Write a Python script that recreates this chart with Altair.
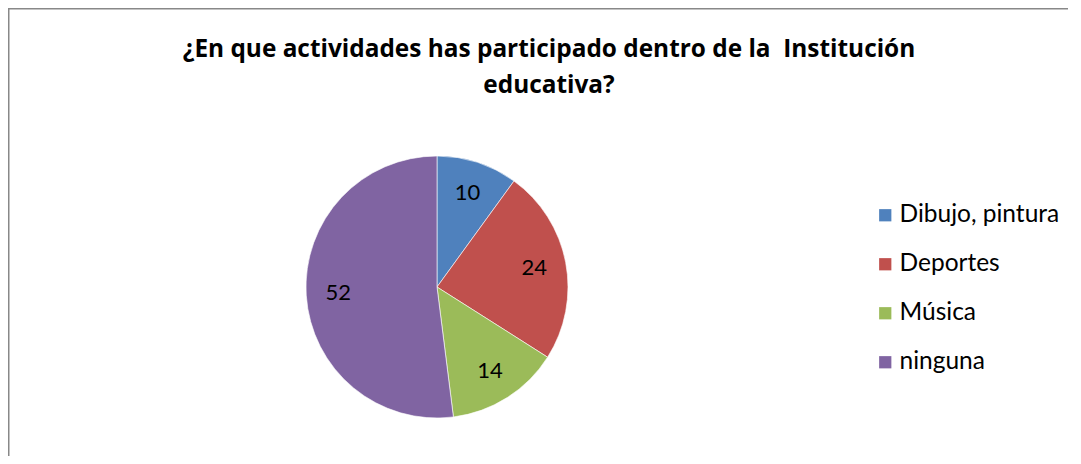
import altair as alt
import pandas as pd

categories = ["Dibujo, pintura", "Deportes", "Música", "ninguna"]
values = [10, 24, 14, 52]
colors = ["#4F81BD", "#C0504D", "#9BBB59", "#8064A2"]
title_lines = "¿En que actividades has participado dentro de la \u00a0Institución\neducativa?"

df = pd.DataFrame({"cat": categories, "val": values, "ord": list(range(len(values)))})

W, H = 1060, 448
CX, CY, R = 429, 279, 131
FONT = "Lato"

base = alt.Chart(df).encode(
    theta=alt.Theta("val:Q", stack=True),
    order=alt.Order("ord:Q"),
)

pie = base.mark_arc(radius=R, stroke="white", strokeWidth=0.6).encode(
    x=alt.value(CX), y=alt.value(CY),
    color=alt.Color(
        "cat:N",
        scale=alt.Scale(domain=categories, range=colors),
        sort=categories,
        legend=alt.Legend(
            title=None, orient="none", legendX=865, legendY=195,
            symbolType="square", symbolSize=150, symbolStrokeWidth=0,
            labelFontSize=24.5, labelFont=FONT, labelColor="black",
            rowPadding=24, labelOffset=2, labelLimit=300,
        ),
    ),
)

labels = base.mark_text(radius=99, fontSize=22, font=FONT, color="black").encode(
    x=alt.value(CX), y=alt.value(CY),
    text=alt.Text("val:Q"),
)

title = alt.Chart(pd.DataFrame({"t": [title_lines]})).mark_text(
    font="Open Sans", fontSize=24.4, fontWeight="bold", color="black",
    lineBreak="\n", lineHeight=36, align="center", baseline="alphabetic",
).encode(x=alt.value(541), y=alt.value(49), text="t:N")

frame = pd.DataFrame({"a": [0]})
left_line = alt.Chart(frame).mark_rule(color="#888888", strokeWidth=1.5).encode(
    x=alt.value(0.75), y=alt.value(0), y2=alt.value(H)
)
top_line = alt.Chart(frame).mark_rule(color="#888888", strokeWidth=1.5).encode(
    x=alt.value(0), x2=alt.value(W), y=alt.value(0.75)
)

chart = alt.layer(pie, labels, title, left_line, top_line).properties(
    width=W, height=H, padding=0, autosize=alt.AutoSizeParams(type="none"),
).configure_view(stroke=None).configure(background="white")

chart.save("out.html", embed_options={"renderer": "svg", "actions": False})
